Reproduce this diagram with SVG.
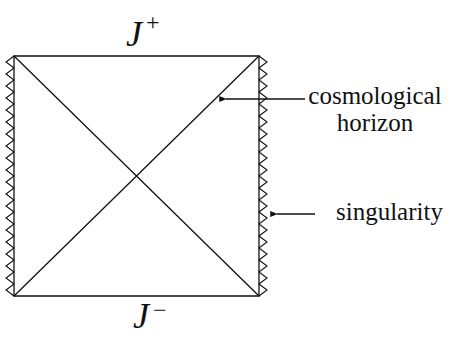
<svg xmlns="http://www.w3.org/2000/svg" width="459" height="347" viewBox="0 0 459 347">
<style>
.ln{stroke:#111;stroke-width:1.3;fill:none}
.zz{stroke:#111;stroke-width:1.1;fill:none;stroke-linejoin:miter}
.t{font-family:"Liberation Serif","DejaVu Serif","Times New Roman",serif;font-size:25px;fill:#111}
.j{font-family:"Liberation Serif","DejaVu Serif","Times New Roman",serif;font-style:italic;font-size:36px;fill:#111}
.s{font-family:"Liberation Serif","DejaVu Serif","Times New Roman",serif;font-size:24px;fill:#111}
</style>
<defs>
<marker id="ah" viewBox="0 0 10 8" refX="1" refY="4" markerWidth="8" markerHeight="6" orient="auto-start-reverse" markerUnits="userSpaceOnUse">
<path d="M0,4 L10,0 L10,8 Z" fill="#111"/>
</marker>
</defs>
<rect width="459" height="347" fill="#fff"/>
<g id="diagram">
<path class="ln" d="M14,56 H259 V296 H14 Z"/>
<path class="ln" d="M14,56 L259,296 M259,56 L14,296"/>
</g>
<g id="singularity-left">
<path class="zz" d="M14,56 l-8,6 l8,6 l-8,6 l8,6 l-8,6 l8,6 l-8,6 l8,6 l-8,6 l8,6 l-8,6 l8,6 l-8,6 l8,6 l-8,6 l8,6 l-8,6 l8,6 l-8,6 l8,6 l-8,6 l8,6 l-8,6 l8,6 l-8,6 l8,6 l-8,6 l8,6 l-8,6 l8,6 l-8,6 l8,6 l-8,6 l8,6 l-8,6 l8,6 l-8,6 l8,6 l-8,6 l8,6"/>
</g>
<g id="singularity-right">
<path class="zz" d="M259,56 l8,6 l-8,6 l8,6 l-8,6 l8,6 l-8,6 l8,6 l-8,6 l8,6 l-8,6 l8,6 l-8,6 l8,6 l-8,6 l8,6 l-8,6 l8,6 l-8,6 l8,6 l-8,6 l8,6 l-8,6 l8,6 l-8,6 l8,6 l-8,6 l8,6 l-8,6 l8,6 l-8,6 l8,6 l-8,6 l8,6 l-8,6 l8,6 l-8,6 l8,6 l-8,6 l8,6 l-8,6"/>
</g>
<g id="labels">
<text class="j" x="126" y="46">J</text><text class="s" x="146" y="30">+</text>
<text class="j" x="133" y="328">J</text><text class="s" x="153" y="318">−</text>
<text class="t" x="375" y="104" text-anchor="middle">cosmological</text>
<text class="t" x="375" y="131" text-anchor="middle">horizon</text>
<text class="t" x="336" y="220">singularity</text>
</g>
<g id="connectors">
<path class="ln" d="M305,99 H226" marker-end="url(#ah)"/>
<path class="ln" d="M315,214 H277" marker-end="url(#ah)"/>
</g>
</svg>
